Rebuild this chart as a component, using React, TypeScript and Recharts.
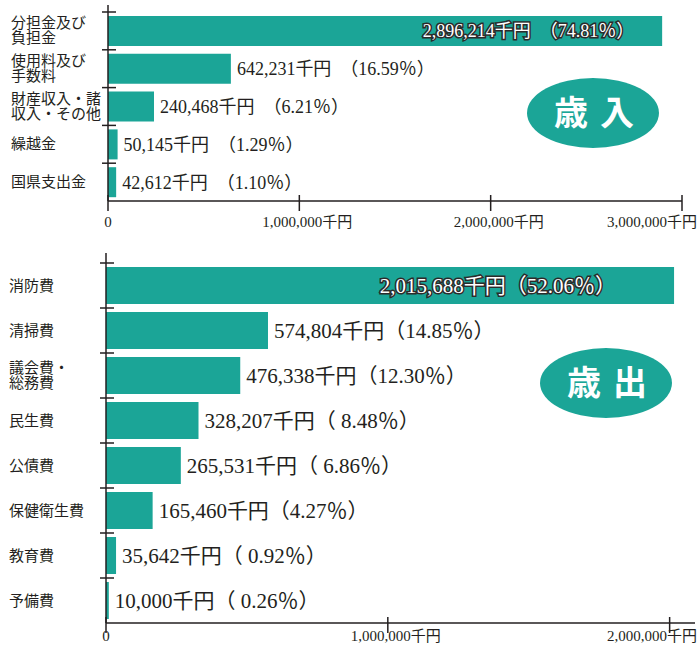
import React from 'react';
import { BarChart, Bar, XAxis, YAxis, LabelList } from 'recharts';

const revenueCategories = ['分担金及び\n負担金', '使用料及び\n手数料', '財産収入・諸\n収入・その他', '繰越金', '国県支出金'];
const revenueValues = [2896214, 642231, 240468, 50145, 42612];
const revenuePercents = ['74.81', '16.59', '6.21', '1.29', '1.10'];
const revenueTicks = [0, 1000000, 2000000, 3000000];

const expenditureCategories = ['消防費', '清掃費', '議会費・\n総務費', '民生費', '公債費', '保健衛生費', '教育費', '予備費'];
const expenditureValues = [2015688, 574804, 476338, 328207, 265531, 165460, 35642, 10000];
const expenditurePercents = ['52.06', '14.85', '12.30', ' 8.48', ' 6.86', '4.27', ' 0.92', ' 0.26'];
const expenditureTicks = [0, 1000000, 2000000];

const TEAL = '#1ba597';
const INK = '#231f20';
const FONT = "'Liberation Serif', 'Noto Sans CJK JP', serif";

const fmt = (v: number) => v.toLocaleString('en-US');

const revenueData = revenueCategories.map((name, i) => ({
  name,
  value: revenueValues[i],
  label: `${fmt(revenueValues[i])}千円　（${revenuePercents[i]}％）`,
}));

const expenditureData = expenditureCategories.map((name, i) => ({
  name,
  value: expenditureValues[i],
  label: `${fmt(expenditureValues[i])}千円（${expenditurePercents[i]}％）`,
}));

// category label on the left + a tick at the top edge of each band
const makeCategoryTick = (band: number, labelX: number) => (props: any) => {
  const { x, y, payload } = props;
  const lines = String(payload.value).split('\n');
  const lh = 15;
  const top = y - band / 2;
  return (
    <g>
      <line x1={x - 6} x2={x + 8} y1={top} y2={top} stroke={INK} strokeWidth={1.5} />
      <text x={labelX} y={y + 5 - ((lines.length - 1) * lh) / 2} fontSize={15} fill={INK} fontFamily={FONT}>
        {lines.map((l, i) => (
          <tspan key={i} x={labelX} dy={i === 0 ? 0 : lh}>
            {l}
          </tspan>
        ))}
      </text>
    </g>
  );
};

const makeValueTick = (labelDy: number, lastX: number) => (props: any) => {
  const { x, y, payload, index, visibleTicksCount } = props;
  const v = payload.value as number;
  const isLast = index === visibleTicksCount - 1;
  const text = v === 0 ? '0' : `${fmt(v)}千円`;
  return (
    <g>
      <line x1={x} x2={x} y1={y - 6} y2={y + 10} stroke={INK} strokeWidth={1.5} />
      <text
        x={isLast ? lastX : v === 0 ? x : x + 8}
        y={y + labelDy}
        textAnchor={isLast ? 'end' : 'middle'}
        fontSize={15}
        fill={INK}
        fontFamily={FONT}
      >
        {text}
      </text>
    </g>
  );
};

const makeBarLabel = (fontSize: number, insideGap: number) => (props: any) => {
  const vb = props.viewBox ?? props;
  const x = Number(vb.x);
  const y = Number(vb.y);
  const w = Number(vb.width);
  const h = Number(vb.height);
  const cy = y + h / 2 + fontSize * 0.36;
  if (w > 400) {
    return (
      <text
        x={x + w - insideGap}
        y={cy}
        textAnchor="end"
        fontSize={fontSize}
        fontFamily={FONT}
        fill="#fff"
        stroke="#2b2b2b"
        strokeWidth={3}
        paintOrder="stroke"
        style={{ whiteSpace: 'pre' }}
      >
        {props.value}
      </text>
    );
  }
  return (
    <text x={x + w + 6} y={cy} fontSize={fontSize} fontFamily={FONT} fill={INK} style={{ whiteSpace: 'pre' }}>
      {props.value}
    </text>
  );
};

function Badge({ cx, cy, a, b }: { cx: number; cy: number; a: string; b: string }) {
  return (
    <g>
      <ellipse cx={cx} cy={cy} rx={66} ry={35} fill={TEAL} />
      <text x={cx - 22} y={cy + 12} textAnchor="middle" fontSize={34} fontWeight={700} fill="#fff" fontFamily="'Noto Sans CJK JP'">
        {a}
      </text>
      <text x={cx + 24} y={cy + 12} textAnchor="middle" fontSize={34} fontWeight={700} fill="#fff" fontFamily="'Noto Sans CJK JP'">
        {b}
      </text>
    </g>
  );
}

export default function App() {
  return (
    <div style={{ position: 'absolute', left: 0, top: 0, width: 700, height: 653, background: '#fff' }}>
      <div style={{ position: 'absolute', left: 0, top: 0 }}>
        <BarChart width={700} height={240} data={revenueData} layout="vertical" margin={{ top: 5, right: 18, bottom: 0, left: 0 }}>
          <XAxis
            type="number"
            dataKey="value"
            domain={[0, 3000000]}
            ticks={revenueTicks}
            height={39}
            tickLine={false}
            tickSize={0}
            tickMargin={0}
            axisLine={{ stroke: INK, strokeWidth: 1.5 }}
            tick={makeValueTick(26, 697)}
            interval={0}
          />
          <YAxis
            type="category"
            dataKey="name"
            width={108}
            padding={{ top: 7 }}
            tickLine={false}
            tickSize={0}
            tickMargin={0}
            axisLine={{ stroke: INK, strokeWidth: 1.5 }}
            tick={makeCategoryTick(189 / 5, 11)}
            interval={0}
          />
          <Bar dataKey="value" fill={TEAL} barSize={30} isAnimationActive={false}>
            <LabelList dataKey="label" content={makeBarLabel(18, 28)} />
          </Bar>
        </BarChart>
      </div>
      <div style={{ position: 'absolute', left: 0, top: 240 }}>
        <BarChart width={700} height={413} data={expenditureData} layout="vertical" margin={{ top: 13, right: 5, bottom: 0, left: 0 }}>
          <XAxis
            type="number"
            dataKey="value"
            domain={[0, 2090000]}
            ticks={expenditureTicks}
            height={30}
            tickLine={false}
            tickSize={0}
            tickMargin={0}
            axisLine={{ stroke: INK, strokeWidth: 1.5 }}
            tick={makeValueTick(18, 697)}
            interval={0}
          />
          <YAxis
            type="category"
            dataKey="name"
            width={106}
            padding={{ top: 10 }}
            tickLine={false}
            tickSize={0}
            tickMargin={0}
            axisLine={{ stroke: INK, strokeWidth: 1.5 }}
            tick={makeCategoryTick(45, 9)}
            interval={0}
          />
          <Bar dataKey="value" fill={TEAL} barSize={37} isAnimationActive={false}>
            <LabelList dataKey="label" content={makeBarLabel(21, 58)} />
          </Bar>
        </BarChart>
      </div>
      <svg width={700} height={653} style={{ position: 'absolute', left: 0, top: 0, pointerEvents: 'none' }}>
        <Badge cx={593} cy={113} a="歳" b="入" />
        <Badge cx={606} cy={383} a="歳" b="出" />
      </svg>
    </div>
  );
}
